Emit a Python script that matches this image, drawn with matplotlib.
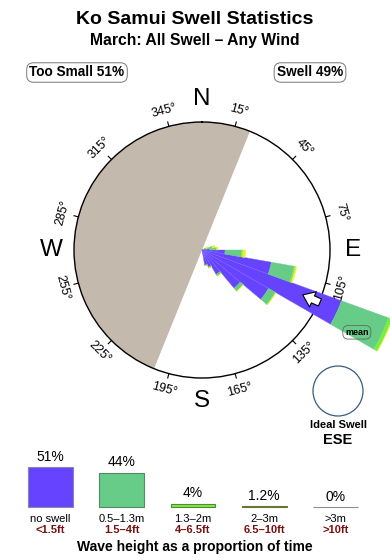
import numpy as np
import matplotlib
matplotlib.use("Agg")
import matplotlib.pyplot as plt
from matplotlib.patches import Ellipse

plt.rcParams['font.family'] = ['Liberation Sans', 'DejaVu Sans']

# ---------------- data ----------------
title = "Ko Samui Swell Statistics"
subtitle = "March: All Swell \u2013 Any Wind"
too_small_pct = 51
swell_pct = 49

# rose bins (compass degrees, clockwise from north)
directions = [65, 75, 85, 95, 105, 115, 125, 135, 145, 155, 165]
band_blue = [0.00, 0.03, 0.06, 0.18, 0.55, 1.16, 0.60, 0.39, 0.22, 0.14, 0.12]
band_green = [0.03, 0.05, 0.05, 0.13, 0.18, 0.39, 0.06, 0.03, 0.015, 0.01, 0.005]
band_lgreen = [0.005, 0.005, 0.005, 0.01, 0.01, 0.03, 0.005, 0.0, 0.0, 0.0, 0.0]
band_yellow = [0.02, 0.02, 0.01, 0.02, 0.01, 0.0, 0.0, 0.0, 0.0, 0.0, 0.0]
bin_width_deg = 10

shadow_start, shadow_end = 202, 382   # too-small / sheltered sector
mean_dir = 114
ideal_label = "ESE"

deg_ticks = [15, 45, 75, 105, 135, 165, 195, 225, 255, 285, 315, 345]
compass = ["N", "E", "S", "W"]
compass_deg = [0, 90, 180, 270]

# legend
leg_pct = [51, 44, 4, 1.2, 0]
leg_pct_lbl = ["51%", "44%", "4%", "1.2%", "0%"]
leg_m = ["no swell", "0.5\u20131.3m", "1.3\u20132m", "2\u20133m", ">3m"]
leg_ft = ["<1.5ft", "1.5\u20134ft", "4\u20136.5ft", "6.5\u201310ft", ">10ft"]

# ---------------- style ----------------
c_blue = "#6644FF"
c_green = "#66CC88"
c_lgreen = "#77EE44"
c_yellow = "#EEEE22"
c_olive = "#88AA44"
c_gray = "#BBAAAA"
c_shadow = "#C4B9AD"
c_red = "#7A1010"
leg_colors = [c_blue, c_green, c_lgreen, c_olive, c_gray]
leg_edges = ["#8888AA", "#558866", "#558833", "#667733", "#998888"]

W, H = 390, 560
fig = plt.figure(figsize=(W / 100, H / 100), dpi=100)
fig.patch.set_facecolor("white")


def fx(x):
    return x / W


def fy(y):
    return 1 - y / H


# titles
fig.text(fx(195), fy(20), title, ha="center", va="center", fontsize=14, fontweight="bold")
fig.text(fx(195), fy(40), subtitle, ha="center", va="center", fontsize=11.3, fontweight="bold")
box = dict(boxstyle="round,pad=0.2,rounding_size=0.5", fc="white", ec="#777777", lw=0.7)
fig.text(fx(77), fy(72.5), f"Too Small {too_small_pct}%", ha="center", va="center",
         fontsize=9.8, fontweight="bold", bbox=box)
fig.text(fx(310), fy(72.5), f"Swell {swell_pct}%", ha="center", va="center",
         fontsize=9.8, fontweight="bold", bbox=box)

# ---------------- rose ----------------
cx, cy, R = 202, 250, 128
ax = fig.add_axes([fx(cx - R), fy(cy + R), 2 * R / W, 2 * R / H], projection="polar")
ax.set_theta_zero_location("N")
ax.set_theta_direction(-1)
ax.set_ylim(0, 1)
ax.grid(False)
ax.set_xticks([])
ax.set_yticks([])
ax.spines["polar"].set_linewidth(1.0)
ax.spines["polar"].set_color("black")
ax.patch.set_facecolor("white")

# shadow sector
ax.bar(np.radians((shadow_start + shadow_end) / 2), 1.0,
       width=np.radians(shadow_end - shadow_start), bottom=0,
       color=c_shadow, linewidth=0, zorder=1)

th = np.radians(directions)
wd = np.radians(bin_width_deg)
bottom = np.zeros(len(directions))
for vals, col, ec in [(band_blue, c_blue, "#7A60FF"), (band_green, c_green, c_green),
                      (band_lgreen, c_lgreen, c_lgreen), (band_yellow, c_yellow, c_yellow)]:
    v = np.array(vals)
    ax.bar(th, v, width=wd, bottom=bottom, color=col, edgecolor=ec, linewidth=0.3,
           clip_on=False, zorder=3)
    bottom += v

# tick marks and degree labels
for d in deg_ticks:
    t = np.radians(d)
    ax.plot([t, t], [1.0, 1.035], color="black", lw=0.8, clip_on=False, zorder=4)
    rot = -d
    while rot < -90:
        rot += 180
    ax.text(t, 1.13, f"{d}\u00b0", ha="center", va="center", fontsize=9,
            rotation=rot, rotation_mode="anchor", clip_on=False)

for lab, d in zip(compass, compass_deg):
    ax.text(np.radians(d), 1.18, lab, ha="center", va="center", fontsize=17.5,
            clip_on=False)

# mean arrow
tm = np.radians(mean_dir)
ax.annotate("", xy=(tm, 0.84), xytext=(tm, 1.03),
            arrowprops=dict(arrowstyle="simple,head_length=0.8,head_width=1.2,tail_width=0.55",
                            fc="white", ec="black", lw=0.8),
            annotation_clip=False, zorder=6)
ax.text(np.radians(118), 1.37, "mean", ha="center", va="center", fontsize=6.5,
        fontweight="bold", clip_on=False, zorder=6,
        bbox=dict(boxstyle="round,pad=0.25,rounding_size=0.6", fc="none", ec="#666666", lw=0.6))

# ideal swell marker
fig.add_artist(Ellipse((fx(338), fy(391)), 50 / W, 50 / H, fc="white", ec="#3A5A80", lw=0.9))
fig.text(fx(338), fy(425), "Ideal Swell", ha="center", va="center", fontsize=8,
         fontweight="bold")
fig.text(fx(338), fy(440), ideal_label, ha="center", va="center", fontsize=10.5,
         fontweight="bold")

# ---------------- legend bars ----------------
px_per_pct = 0.784
lax = fig.add_axes([0, fy(507), 1, 100 / H])
lax.set_xlim(-50.5 / 71.25, (W - 50.5) / 71.25)
lax.set_ylim(0, 100 / px_per_pct)
lax.axis("off")
xs = np.arange(len(leg_pct))
lax.bar(xs, leg_pct, width=0.63, color=leg_colors, edgecolor=leg_edges, linewidth=0.8,
        align="center", clip_on=False)
for i, (p, lbl) in enumerate(zip(leg_pct, leg_pct_lbl)):
    lax.annotate(lbl, xy=(i, p), xytext=(0, 2.5), textcoords="offset points",
                 ha="center", va="bottom", fontsize=10, annotation_clip=False)
    lax.annotate(leg_m[i], xy=(i, 0), xytext=(0, -8.3), textcoords="offset points",
                 ha="center", va="center", fontsize=8, annotation_clip=False)
    lax.annotate(leg_ft[i], xy=(i, 0), xytext=(0, -16.8), textcoords="offset points",
                 ha="center", va="center", fontsize=8, fontweight="bold", color=c_red,
                 annotation_clip=False)

fig.text(fx(195), fy(547), "Wave height as a proportion of time", ha="center", va="center",
         fontsize=10, fontweight="bold")

fig.savefig("out.png", dpi=100, facecolor="white")
